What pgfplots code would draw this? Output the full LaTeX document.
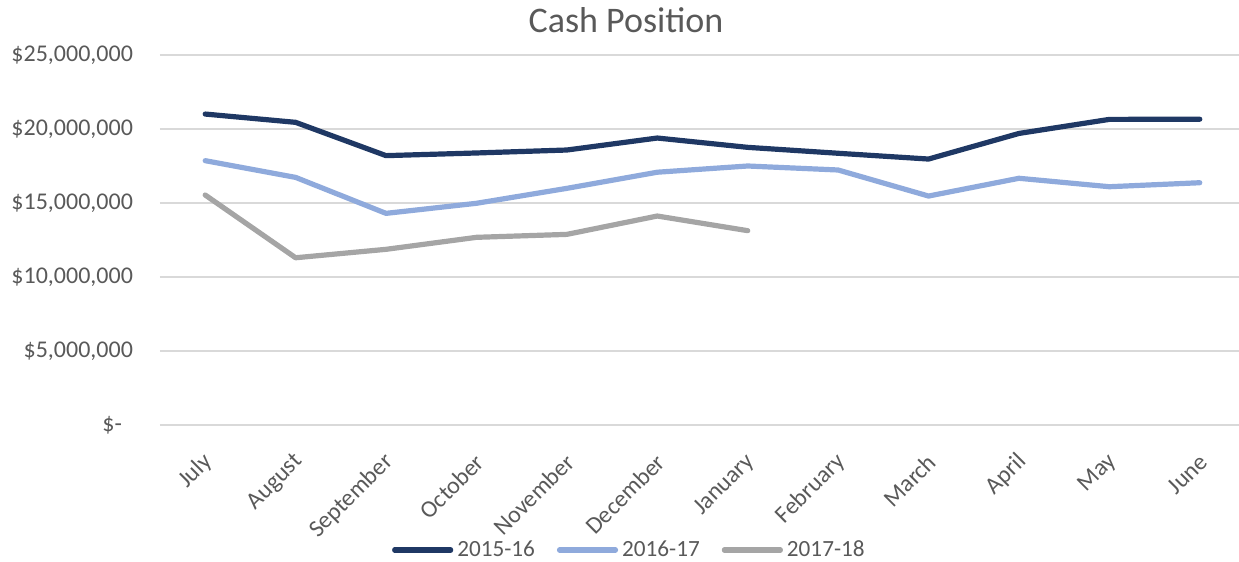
\documentclass[border=0pt]{standalone}
\usepackage{fontspec}
\setmainfont{Carlito}
\usepackage{pgfplots}
\pgfplotsset{compat=1.18}
\definecolor{darkblue}{RGB}{31,56,100}
\definecolor{lightblue}{RGB}{143,170,220}
\definecolor{midgray}{RGB}{165,165,165}
\definecolor{txtgray}{RGB}{89,89,89}
\definecolor{gridgray}{RGB}{217,217,217}
\begin{document}
\begin{tikzpicture}
\path[use as bounding box] (-80pt,-68.5pt) rectangle (539.5pt,212.5pt);
\begin{axis}[
  scale only axis,
  width=542.5pt, height=185pt,
  at={(0,0)}, anchor=south west,
  xmin=-0.5, xmax=11.5,
  ymin=0, ymax=25000000,
  scaled y ticks=false,
  axis line style={draw=none},
  major tick length=0pt,
  xtick={0,...,11},
  xticklabels={July,August,September,October,November,December,January,February,March,April,May,June},
  ytick={0,5000000,10000000,15000000,20000000,25000000},
  yticklabels={{\$-\hspace*{5.5pt}},{\$5,000,000},{\$10,000,000},{\$15,000,000},{\$20,000,000},{\$25,000,000}},
  ymajorgrids, grid style={gridgray, line width=0.9pt},
  tick label style={font=\fontsize{12}{14}\selectfont, text=txtgray},
  yticklabel style={anchor=east, xshift=-10pt},
  xticklabel style={rotate=45, anchor=east, xshift=-7pt, yshift=-13pt},
  legend style={at={(0.4335,-0.3378)}, anchor=center, draw=none, fill=none,
    font=\fontsize{11.6}{13}\selectfont, text=txtgray, legend columns=-1,
    /tikz/every even column/.append style={column sep=9pt}},
  legend image code/.code={\draw[#1, line cap=round] (0pt,0pt) -- (28pt,0pt);},
  every axis plot/.append style={line width=2.6pt, line join=round, line cap=round},
]
\addplot[darkblue] coordinates {
(0,21.01e6) (1,20.45e6) (2,18.2e6) (3,18.38e6) (4,18.58e6) (5,19.39e6)
(6,18.76e6) (7,18.36e6) (8,17.97e6) (9,19.7e6) (10,20.65e6) (11,20.66e6)};
\addlegendentry{2015-16}
\addplot[lightblue] coordinates {
(0,17.86e6) (1,16.73e6) (2,14.3e6) (3,14.98e6) (4,15.99e6) (5,17.08e6)
(6,17.5e6) (7,17.23e6) (8,15.47e6) (9,16.67e6) (10,16.1e6) (11,16.37e6)};
\addlegendentry{2016-17}
\addplot[midgray] coordinates {
(0,15.54e6) (1,11.3e6) (2,11.87e6) (3,12.68e6) (4,12.88e6) (5,14.12e6) (6,13.13e6)};
\addlegendentry{2017-18}
\end{axis}
\node[anchor=base, font=\fontsize{18}{21}\selectfont, text=txtgray, inner sep=0pt] at (233pt,196pt) {Cash Position};
\end{tikzpicture}
\end{document}
